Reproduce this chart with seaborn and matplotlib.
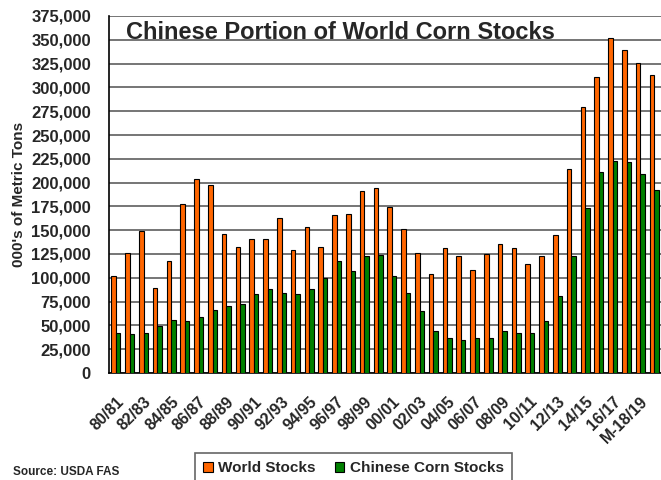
import pandas as pd
import seaborn as sns
import matplotlib.pyplot as plt
import matplotlib.transforms as mtrans
from matplotlib.ticker import FuncFormatter, FixedLocator

# Marketing years 80/81 .. 19/20 (18/19 marked "M-" in the original)
years = ["80/81", "81/82", "82/83", "83/84", "84/85", "85/86", "86/87", "87/88",
         "88/89", "89/90", "90/91", "91/92", "92/93", "93/94", "94/95", "95/96",
         "96/97", "97/98", "98/99", "99/00", "00/01", "01/02", "02/03", "03/04",
         "04/05", "05/06", "06/07", "07/08", "08/09", "09/10", "10/11", "11/12",
         "12/13", "13/14", "14/15", "15/16", "16/17", "17/18", "M-18/19", "19/20"]

# 000's of metric tons
world_stocks = [102000, 126000, 149500, 89000, 117500, 177000, 204000, 197000,
                145500, 132500, 141000, 141000, 162500, 129500, 153500, 132500,
                165500, 166500, 191000, 194500, 174500, 151500, 126500, 104000,
                131000, 122500, 108500, 125500, 135000, 131000, 115000, 122500,
                144500, 214000, 279000, 311000, 351500, 339000, 325500, 313500]
china_stocks = [42500, 41000, 42500, 49500, 55500, 54500, 58500, 66000,
                70500, 72500, 83000, 88000, 84500, 83000, 88000, 99500,
                117500, 107000, 123000, 124000, 102000, 84500, 65000, 44000,
                36500, 34500, 36500, 36500, 44000, 42500, 42500, 55000,
                81000, 123000, 173000, 211000, 222500, 222000, 209500, 192000]

df = pd.DataFrame({
    "Year": years * 2,
    "Stocks": world_stocks + china_stocks,
    "Series": ["World Stocks"] * len(years) + ["Chinese Corn Stocks"] * len(years),
})

sns.set_style("white")
plt.rcParams["font.family"] = ["Liberation Sans", "DejaVu Sans"]

fig = plt.figure(figsize=(6.61, 4.8), dpi=100)
ax = fig.add_axes([109 / 661, 1 - 373 / 480, 1 - 109 / 661, (373 - 16) / 480])

sns.barplot(data=df, x="Year", y="Stocks", hue="Series", ax=ax,
            palette=["#FF6600", "#008000"], width=0.66, edgecolor="black",
            linewidth=0.8, saturation=1, legend=True, zorder=3)

ax.set_ylim(0, 375000)
ax.set_xlim(-0.5, 38.93)
ax.yaxis.set_major_locator(FixedLocator(range(0, 375001, 25000)))
ax.yaxis.set_major_formatter(FuncFormatter(lambda v, p: f"{int(v):,}"))
ax.grid(axis="y", color="#505050", linewidth=1.1, zorder=0)
ax.set_axisbelow(True)

# labels on every other year, tick marks at category boundaries
ax.set_xticks(range(0, len(years), 2))
ax.set_xticklabels(years[::2], rotation=45, ha="right", rotation_mode="anchor",
                   fontsize=11.5, fontweight="bold")
shift = mtrans.ScaledTranslation(-6 / 100, 0, fig.dpi_scale_trans)
for t in ax.get_xticklabels():
    t.set_transform(t.get_transform() + shift)
ax.set_xticks([i - 0.5 for i in range(len(years) + 1)], minor=True)
ax.tick_params(axis="x", which="major", length=0, pad=15)
ax.tick_params(axis="x", which="minor", length=5, color="#808080", width=1)
ax.tick_params(axis="y", length=6, color="#808080", labelsize=12, pad=7)
for t in ax.get_yticklabels():
    t.set_fontweight("bold")

for s in ["right", "top"]:
    ax.spines[s].set_visible(False)
for s in ["left", "bottom"]:
    ax.spines[s].set_color("black")
    ax.spines[s].set_linewidth(1.2)

ax.set_xlabel("")
ax.set_ylabel("000's of Metric Tons", fontsize=11, fontweight="bold", labelpad=4)

ax.text(0.03, 0.985, "Chinese Portion of World Corn Stocks", transform=ax.transAxes,
        fontsize=17, fontweight="bold", va="top", ha="left")

handles, labels = ax.get_legend_handles_labels()
ax.legend_.remove()
leg = fig.legend(handles, labels, loc="upper center", bbox_to_anchor=(0.535, 0.0563),
                 ncol=2, frameon=True, fancybox=False, edgecolor="#404040",
                 handlelength=0.6, handleheight=0.6, handletextpad=0.35,
                 columnspacing=1.3, borderpad=0.55, borderaxespad=0,
                 prop={"size": 11, "weight": "bold"})
leg.get_frame().set_linewidth(1.2)

fig.text(13 / 661, 1 - 472 / 480, "Source: USDA FAS", fontsize=8.5,
         fontweight="bold", va="center", ha="left")

fig.savefig("out.png", dpi=100)
